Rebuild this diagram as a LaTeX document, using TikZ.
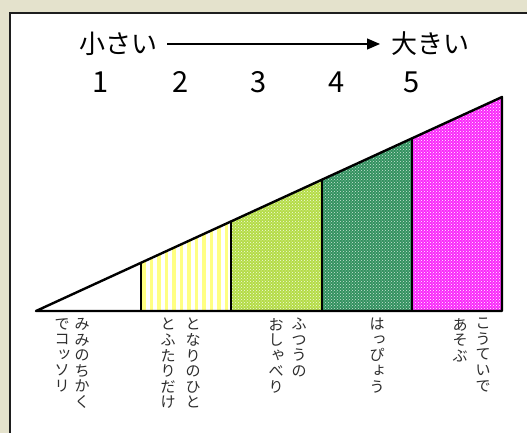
\documentclass[tikz,border=0pt]{standalone}
\usepackage{fontspec}
\newfontfamily\jp{Noto Sans CJK JP}
\usetikzlibrary{arrows.meta,patterns}
\definecolor{bgc}{RGB}{228,226,204}
\definecolor{framec}{RGB}{30,30,30}
\definecolor{labc}{RGB}{45,45,45}
\definecolor{stripec}{RGB}{255,255,130}
\definecolor{secthree}{RGB}{180,220,70}
\definecolor{secfour}{RGB}{50,145,95}
\definecolor{secfive}{RGB}{250,40,250}
\newcommand\smk[1]{\makebox[1em][l]{\kern0.16em\raisebox{0.14em}{#1}}}
\tikzset{
  bigtxt/.style={font=\jp\fontsize{26}{30}\selectfont, inner sep=0},
  numtxt/.style={font=\jp\fontsize{29}{30}\selectfont, inner sep=0},
  vlab/.style={anchor=north, align=center, font=\jp\fontsize{15}{15.6}\selectfont, text=labc, inner sep=0},
  outline/.style={line width=2.4pt, line join=round},
  divider/.style={line width=1.8pt},
}
\begin{document}
\begin{tikzpicture}[x=1pt,y=-1pt]
\useasboundingbox (0,0) rectangle (527,433);
\fill[bgc] (0,0) rectangle (527,433);
\fill[white] (10,13) rectangle (530,436);
\draw[framec, line width=2.5pt] (10,440) -- (10,13) -- (530,13);

% triangle points
\coordinate (A) at (36,311);
\coordinate (b1) at (141,311); \coordinate (t1) at (141,262.8);
\coordinate (b2) at (231,311); \coordinate (t2) at (231,221.5);
\coordinate (b3) at (322,311); \coordinate (t3) at (322,179.7);
\coordinate (b4) at (412,311); \coordinate (t4) at (412,138.3);
\coordinate (b5) at (502,311); \coordinate (t5) at (502,97);

% section 2: stripes
\begin{scope}
  \clip (b1) -- (t1) -- (t2) -- (b2) -- cycle;
  \fill[white] (141,200) rectangle (231,311);
  \foreach \x in {144,151.5,...,232} {
    \fill[stripec] (\x-1.9,200) rectangle (\x+1.9,311);
  }
\end{scope}
% section 3
\fill[secthree] (b2) -- (t2) -- (t3) -- (b3) -- cycle;
\fill[pattern=crosshatch dots, pattern color=white!85!secthree] (b2) -- (t2) -- (t3) -- (b3) -- cycle;
% section 4
\fill[secfour] (b3) -- (t3) -- (t4) -- (b4) -- cycle;
\fill[pattern=crosshatch dots, pattern color=white!75!secfour] (b3) -- (t3) -- (t4) -- (b4) -- cycle;
% section 5
\fill[secfive] (b4) -- (t4) -- (t5) -- (b5) -- cycle;
\fill[pattern=crosshatch dots, pattern color=white] (b4) -- (t4) -- (t5) -- (b5) -- cycle;

% dividers and outline
\draw[divider] (b1) -- (t1);
\draw[divider] (b2) -- (t2);
\draw[divider] (b3) -- (t3);
\draw[divider] (b4) -- (t4);
\draw[outline] (A) -- (t5) -- (b5) -- cycle;

% top labels
\node[bigtxt, anchor=west] (small) at (79,44) {小さい};
\node[bigtxt, anchor=west] (big) at (391,44) {大きい};
\draw[line width=1.2pt, -{Triangle[length=13pt,width=11pt]}, shorten <=10pt, shorten >=11pt] (small.east) -- (big.west);

\node[numtxt] (n1) at (101,82) {1};
\node[numtxt] (n2) at (181,82) {2};
\node[numtxt] (n3) at (259,82) {3};
\node[numtxt] (n4) at (337,82) {4};
\node[numtxt] (n5) at (412,82) {5};

% vertical labels
\node[vlab] (l1a) at (82,318) {み\\み\\の\\ち\\か\\く};
\node[vlab] (l1b) at (62,318) {で\\コ\\\smk{ッ}\\ソ\\リ};
\node[vlab] (l2a) at (193,318) {と\\な\\り\\の\\ひ\\と};
\node[vlab] (l2b) at (168,318) {と\\ふ\\た\\り\\だ\\け};
\node[vlab] (l3a) at (299,318) {ふ\\つ\\う\\の};
\node[vlab] (l3b) at (276,318) {お\\し\\\smk{ゃ}\\べ\\り};
\node[vlab] (l4a) at (377,318) {は\\\smk{っ}\\ぴ\\\smk{ょ}\\う};
\node[vlab] (l5a) at (483,318) {こ\\う\\て\\い\\で};
\node[vlab] (l5b) at (460,318) {あ\\そ\\ぶ};
\end{tikzpicture}
\end{document}
